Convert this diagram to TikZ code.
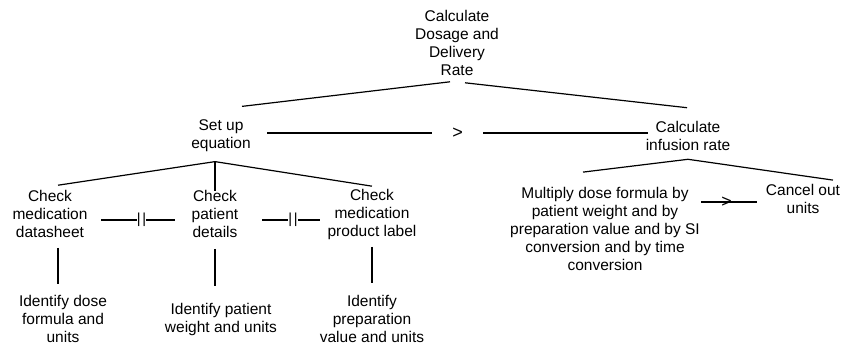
\documentclass[tikz,border=0pt]{standalone}
\usepackage{fontspec}
\setmainfont{Liberation Sans}
\usepackage{tikz}
\usetikzlibrary{calc}

\begin{document}
\begin{tikzpicture}
    [x=1pt, y=-1pt, line width=1.2pt,
     box/.style={align=center, inner sep=0pt, font=\fontsize{15.5}{18}\selectfont},
     gap/.style={fill=white, inner sep=0pt, minimum width=51pt, font=\fontsize{18}{18}\selectfont},
     bars/.style={fill=white, inner sep=0pt, font=\fontsize{14.5}{14.5}\selectfont}]
    \useasboundingbox (0,0) rectangle (848,350);
    % top
    \node[box] (calc) at (457,42.5) {Calculate\\Dosage and\\Delivery\\Rate};
    \node[box] (setup) at (221,135.5) {Set up\\equation};
    \node[box] (infusion) at (688,135.5) {Calculate\\infusion rate};
    \draw ([shift={(-7,6)}]calc.south) -- ([shift={(21,-12.5)}]setup.north);
    \draw ([shift={(8,7)}]calc.south) -- ([shift={(-1,-12.5)}]infusion.north);
    \draw ([shift={(16,-2.5)}]setup.east) -- node[gap] {>} ([shift={(2.5,-2.5)}]infusion.west);
    % left
    \node[box] (cmd) at (50,213.5) {Check\\medication\\datasheet};
    \node[box] (cpd) at (215,213.5) {Check\\patient\\details};
    \node[box] (cpl) at (372,214.5) {Check\\medication\\product label};
    \draw ([shift={(-6,9.5)}]setup.south) -- ([shift={(8,-4)}]cmd.north);
    \draw ([shift={(-6,9.5)}]setup.south) -- ([shift={(0,2)}]cpd.north);
    \draw ([shift={(-6,9.5)}]setup.south) -- ([shift={(0,-2.5)}]cpl.north);
    \draw ([shift={(13,6.5)}]cmd.east) -- node[bars, pos=0.55] {|\kern1.8pt|} ([shift={(-16.5,6.5)}]cpd.west);
    \draw ([shift={(23.5,6.5)}]cpd.east) -- node[bars, pos=0.53] {|\kern1.8pt|} ([shift={(-7,5.5)}]cpl.west);
    \node[box] (idose) at (63,318.5) {Identify dose\\formula and\\units};
    \node[box] (iweight) at (221,319) {Identify patient\\weight and units};
    \node[box] (iprep) at (372,318.5) {Identify\\preparation\\value and units};
    \draw ([shift={(8,10)}]cmd.south) -- ([shift={(-5,-10)}]idose.north);
    \draw ([shift={(0,11)}]cpd.south) -- ([shift={(-6,-16)}]iweight.north);
    \draw ([shift={(0,6.5)}]cpl.south) -- ([shift={(0,-11)}]iprep.north);
    % right
    \node[box] (multiply) at (605,229) {Multiply dose formula by\\patient weight and by\\preparation value and by SI\\conversion and by time\\conversion};
    \node[box] (cancel) at (803,199) {Cancel out\\units};
    \draw ([shift={(0,8.5)}]infusion.south) -- ([shift={(-22,-14.6)}]multiply.north);
    \draw ([shift={(0,8.5)}]infusion.south) -- ([shift={(30,-3.6)}]cancel.north);
    \draw ([shift={(1,-27)}]multiply.east) -- node[inner sep=0pt, pos=0.45, font=\fontsize{18}{18}\selectfont] {>} ([shift={(-8,3)}]cancel.west);
\end{tikzpicture}
\end{document}
